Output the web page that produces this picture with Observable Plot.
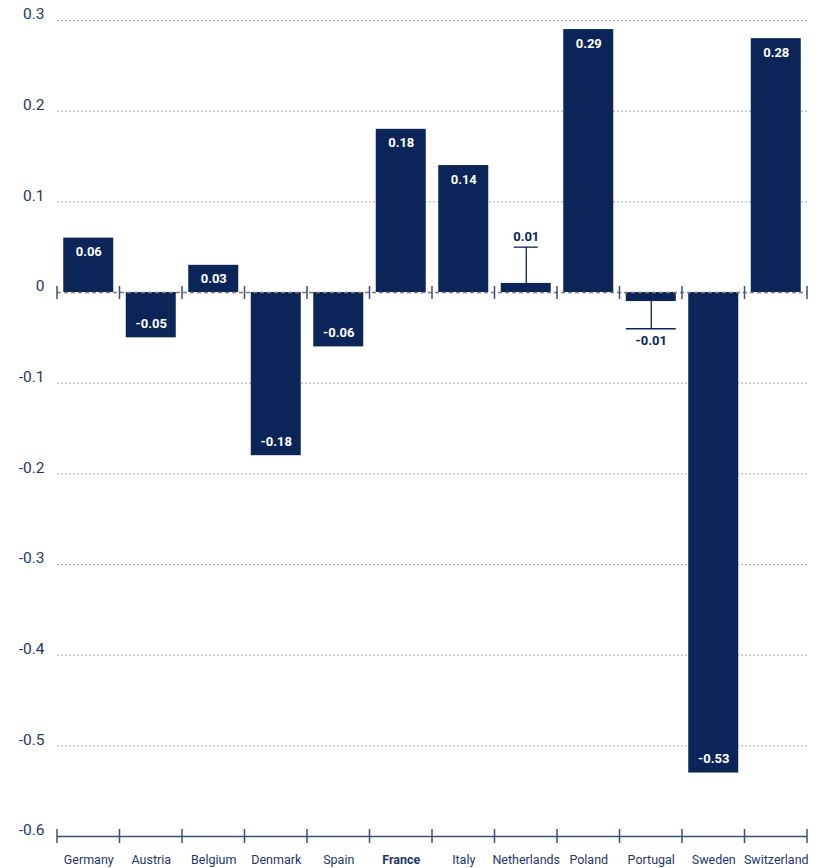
<!DOCTYPE html>
<html>
<head>
<meta charset="utf-8">
<script src="https://cdn.jsdelivr.net/npm/d3@7"></script>
<script src="https://cdn.jsdelivr.net/npm/@observablehq/plot@0.6"></script>
<style>
  html, body { margin: 0; padding: 0; background: #fff; }
  #chart svg { display: block; }
</style>
</head>
<body>
<div id="chart"></div>
<script>
// ---- data ----
const countries = ["Germany", "Austria", "Belgium", "Denmark", "Spain", "France", "Italy", "Netherlands", "Poland", "Portugal", "Sweden", "Switzerland"];
const values = [0.06, -0.05, 0.03, -0.18, -0.06, 0.18, 0.14, 0.01, 0.29, -0.01, -0.53, 0.28];
const errCountries = ["Netherlands", "Portugal"];
const errEnds = [0.05, -0.04];
const yTicks = [0.3, 0.2, 0.1, 0, -0.1, -0.2, -0.3, -0.4, -0.5, -0.6];
const yTickLabels = ["0.3", "0.2", "0.1", "0", "-0.1", "-0.2", "-0.3", "-0.4", "-0.5", "-0.6"];
const highlight = "France";

const data = countries.map((c, i) => ({country: c, value: values[i]}));
const errData = errCountries.map((c, i) => ({country: c, value: values[countries.indexOf(c)], end: errEnds[i]}));
const tickData = yTicks.map((v, i) => ({v, label: yTickLabels[i]}));

const navy = "#0b2559";
const textNavy = "#1d3768";
const FONT = "'Liberation Sans Narrow', Roboto, sans-serif";

// ticks at band boundaries (drawn via scales)
function boundaryTicks(yVal, up, down, color) {
  return (index, scales, values, dims) => {
    const xs = typeof scales.x === "function" ? scales.x : scales.x.apply;
    const ys = typeof scales.y === "function" ? scales.y : scales.y.apply;
    const step = xs(countries[1]) - xs(countries[0]);
    const y0 = ys(yVal);
    const xsPos = countries.map(c => xs(c) - step * 0.1);
    xsPos.push(xs(countries[countries.length - 1]) + step * 0.9);
    const g = d3.create("svg:g").attr("stroke", color).attr("stroke-width", 1.5);
    for (const x of xsPos) {
      g.append("line").attr("x1", x).attr("x2", x).attr("y1", y0 - up).attr("y2", y0 + down);
    }
    return g.node();
  };
}

const valueLabelStyle = {fontWeight: "bold", fontSize: 13, letterSpacing: "-0.4px"};

const chart = Plot.plot({
  width: 815,
  height: 868,
  marginLeft: 57,
  marginRight: 8,
  marginTop: 20,
  marginBottom: 32,
  style: {background: "#fff", fontFamily: FONT},
  x: {domain: countries, paddingInner: 0.2, paddingOuter: 0.1, round: false, axis: null},
  y: {domain: [-0.6, 0.3], axis: null},
  marks: [
    // dotted gridlines
    Plot.ruleY(tickData.filter(d => d.v !== 0 && d.v !== -0.6), {
      y: "v", stroke: "#9aa6c8", strokeWidth: 1, strokeDasharray: "2,2"
    }),
    // y tick labels
    Plot.text(tickData, {
      y: "v", text: "label", frameAnchor: "left", dx: -13, dy: -6, textAnchor: "end",
      fill: textNavy, fontSize: 15.5, letterSpacing: "-0.5px"
    }),
    // bars
    Plot.barY(data, {x: "country", y: "value", fill: navy}),
    // zero line
    Plot.ruleY([0], {stroke: "#7a7a7a", strokeWidth: 1.5, strokeDasharray: "4,3"}),
    boundaryTicks(0, 6, 7, "#3a4f7a"),
    // bottom axis line
    Plot.ruleY([-0.6], {stroke: "#3a4f7a", strokeWidth: 1.5}),
    boundaryTicks(-0.6, 7, 7, "#3a4f7a"),
    // error bars
    Plot.ruleX(errData, {x: "country", y1: "value", y2: "end", stroke: navy, strokeWidth: 1.3}),
    Plot.tickY(errData.filter(d => d.country === "Netherlands"), {x: "country", y: "end", stroke: navy, strokeWidth: 1.3, insetLeft: 13, insetRight: 13}),
    Plot.tickY(errData.filter(d => d.country === "Portugal"), {x: "country", y: "end", stroke: navy, strokeWidth: 1.3}),
    // value labels inside bars
    Plot.text(data.filter(d => !errCountries.includes(d.country) && d.value > 0), {
      x: "country", y: "value", text: d => d.value.toFixed(2), dy: 14,
      fill: "white", ...valueLabelStyle
    }),
    Plot.text(data.filter(d => !errCountries.includes(d.country) && d.value < 0), {
      x: "country", y: "value", text: d => d.value.toFixed(2), dy: -14,
      fill: "white", ...valueLabelStyle
    }),
    // value labels beyond error bars
    Plot.text(errData.filter(d => d.value > 0), {
      x: "country", y: "end", text: d => d.value.toFixed(2), dy: -10,
      fill: navy, ...valueLabelStyle
    }),
    Plot.text(errData.filter(d => d.value < 0), {
      x: "country", y: "end", text: d => d.value.toFixed(2), dy: 12,
      fill: navy, ...valueLabelStyle
    }),
    // category labels
    Plot.text(countries.filter(c => c !== highlight), {
      x: d => d, y: () => -0.6, dy: 23, text: d => d,
      fill: textNavy, fontSize: 12.5, letterSpacing: "-0.4px"
    }),
    Plot.text([highlight], {
      x: d => d, y: () => -0.6, dy: 23, text: d => d,
      fill: textNavy, fontSize: 12.5, fontWeight: "bold", letterSpacing: "-0.4px"
    })
  ]
});
document.getElementById("chart").appendChild(chart);
</script>
</body>
</html>
